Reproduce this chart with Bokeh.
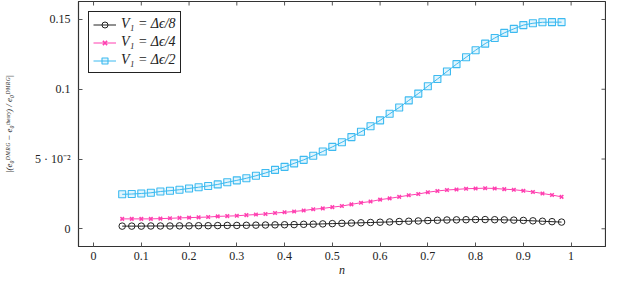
import math
from bokeh.plotting import figure
from bokeh.models import Range1d, FixedTicker, Legend, LegendItem
from bokeh.embed import file_html
from bokeh.resources import INLINE

# ---- data ----
n_vals = [0.06, 0.08, 0.10, 0.12, 0.14, 0.16, 0.18, 0.20, 0.22, 0.24,
          0.26, 0.28, 0.30, 0.32, 0.34, 0.36, 0.38, 0.40, 0.42, 0.44,
          0.46, 0.48, 0.50, 0.52, 0.54, 0.56, 0.58, 0.60, 0.62, 0.64,
          0.66, 0.68, 0.70, 0.72, 0.74, 0.76, 0.78, 0.80, 0.82, 0.84,
          0.86, 0.88, 0.90, 0.92, 0.94, 0.96, 0.98]

err_v8 = [0.0019, 0.0019, 0.0019, 0.0020, 0.0020, 0.0020, 0.0021, 0.0021, 0.0022, 0.0022,
          0.0023, 0.0024, 0.0024, 0.0025, 0.0026, 0.0027, 0.0028, 0.0029, 0.0030, 0.0032,
          0.0033, 0.0035, 0.0037, 0.0039, 0.0041, 0.0043, 0.0045, 0.0047, 0.0049, 0.0052,
          0.0054, 0.0056, 0.0059, 0.0061, 0.0063, 0.0064, 0.0065, 0.0066, 0.0066, 0.0065,
          0.0064, 0.0062, 0.0060, 0.0057, 0.0054, 0.0051, 0.0048]

err_v4 = [0.0071, 0.0071, 0.0071, 0.0071, 0.0073, 0.0075, 0.0078, 0.0080, 0.0082, 0.0084,
          0.0089, 0.0091, 0.0093, 0.0098, 0.0102, 0.0106, 0.0113, 0.0118, 0.0124, 0.0131,
          0.0140, 0.0146, 0.0155, 0.0163, 0.0175, 0.0187, 0.0195, 0.0209, 0.0218, 0.0229,
          0.0240, 0.0249, 0.0262, 0.0271, 0.0278, 0.0282, 0.0287, 0.0289, 0.0291, 0.0289,
          0.0284, 0.0280, 0.0273, 0.0264, 0.0253, 0.0242, 0.0229]

err_v2 = [0.0247, 0.0249, 0.0253, 0.0258, 0.0267, 0.0273, 0.0280, 0.0289, 0.0298, 0.0307,
          0.0318, 0.0333, 0.0347, 0.0362, 0.0380, 0.0400, 0.0422, 0.0444, 0.0469, 0.0494,
          0.0523, 0.0554, 0.0587, 0.0620, 0.0657, 0.0695, 0.0735, 0.0777, 0.0824, 0.0869,
          0.0920, 0.0969, 0.1022, 0.1073, 0.1127, 0.1180, 0.1229, 0.1280, 0.1327, 0.1367,
          0.1404, 0.1433, 0.1460, 0.1473, 0.1480, 0.1481, 0.1481]

x_ticks = [0, 0.1, 0.2, 0.3, 0.4, 0.5, 0.6, 0.7, 0.8, 0.9, 1.0]
x_tick_labels = ["0", "0.1", "0.2", "0.3", "0.4", "0.5", "0.6", "0.7", "0.8", "0.9", "1"]
y_ticks = [0, 0.05, 0.1, 0.15]
y_tick_labels = ["0", "5 · 10⁻²", "0.1", "0.15"]

labels = ["V₁ = Δϵ/8", "V₁ = Δϵ/4", "V₁ = Δϵ/2"]
colors = ["#222222", "#ff3fb0", "#3dbaf0"]
markers = ["circle", "x", "square"]

X_MIN, X_MAX = -0.0315, 1.072
Y_MIN, Y_MAX = -0.0127, 0.1629

FONT = "Liberation Serif"
AX_COL = "#333333"

p = figure(width=606, height=279, output_backend="svg", toolbar_location=None,
           x_range=Range1d(X_MIN, X_MAX), y_range=Range1d(Y_MIN, Y_MAX),
           min_border_left=4, min_border_right=1, min_border_top=1, min_border_bottom=0)
p.grid.visible = False
p.outline_line_color = AX_COL
p.outline_line_width = 1.2
p.background_fill_color = "white"
p.border_fill_color = "white"

for ax in (p.xaxis[0], p.yaxis[0]):
    ax.major_tick_in = 4
    ax.major_tick_out = 0
    ax.minor_tick_in = 0
    ax.minor_tick_out = 0
    ax.axis_line_color = AX_COL
    ax.major_tick_line_color = "#555555"
    ax.major_label_text_font = FONT
    ax.major_label_text_font_size = "12px"
    ax.major_label_text_color = "#222222"
    ax.axis_label_text_font = FONT
    ax.axis_label_text_font_style = "italic"
    ax.axis_label_text_color = "#222222"

p.xaxis[0].ticker = FixedTicker(ticks=x_ticks)
p.xaxis[0].major_label_overrides = {t: l for t, l in zip(x_ticks, x_tick_labels)}
p.xaxis[0].axis_label = "n"
p.xaxis[0].axis_label_text_font_size = "12px"
p.xaxis[0].axis_label_standoff = 0
p.xaxis[0].major_label_standoff = 5

p.yaxis[0].ticker = FixedTicker(ticks=y_ticks)
p.yaxis[0].major_label_overrides = {t: l for t, l in zip(y_ticks, y_tick_labels)}
p.yaxis[0].axis_label = "|(e₀ᴰᴹᴿᴳ − e₀ᵗʰᵉᵒʳʸ) / e₀ᴰᴹᴿᴳ|"
p.yaxis[0].axis_label_text_font_size = "9px"
p.yaxis[0].axis_label_standoff = 18
p.yaxis[0].major_label_standoff = 8

# mirrored inward ticks on the top and right frame edges
p.ray(x=x_ticks, y=[Y_MAX] * len(x_ticks), length=4, length_units="screen",
      angle=-math.pi / 2, line_color="#555555", line_width=1)
p.ray(x=[X_MAX] * len(y_ticks), y=y_ticks, length=4, length_units="screen",
      angle=math.pi, line_color="#555555", line_width=1)

items = []
for ys, lab, col, mk in zip([err_v8, err_v4, err_v2], labels, colors, markers):
    ln = p.line(n_vals, ys, line_color=col, line_width=1.0)
    if mk == "square":
        sc = p.scatter(n_vals, ys, marker=mk, size=7, line_color=col, line_width=1.1,
                       fill_color=col, fill_alpha=0.15)
    elif mk == "x":
        sc = p.scatter(n_vals, ys, marker=mk, size=5, line_color=col, line_width=1.5)
    else:
        sc = p.scatter(n_vals, ys, marker=mk, size=6.5, line_color=col, line_width=1.0,
                       fill_color=None)
    items.append(LegendItem(label=lab, renderers=[ln, sc]))

legend = Legend(items=items, location="top_left")
legend.label_text_font = FONT
legend.label_text_font_size = "14px"
legend.label_text_font_style = "italic"
legend.label_text_color = "#222222"
legend.border_line_color = "#222222"
legend.border_line_width = 1.2
legend.border_line_alpha = 1
legend.background_fill_alpha = 1
legend.glyph_width = 23
legend.glyph_height = 15
legend.label_height = 15
legend.spacing = 2
legend.padding = 4
legend.margin = 10
legend.label_standoff = 5
p.add_layout(legend)

open("out.html", "w").write(file_html(p, INLINE))
